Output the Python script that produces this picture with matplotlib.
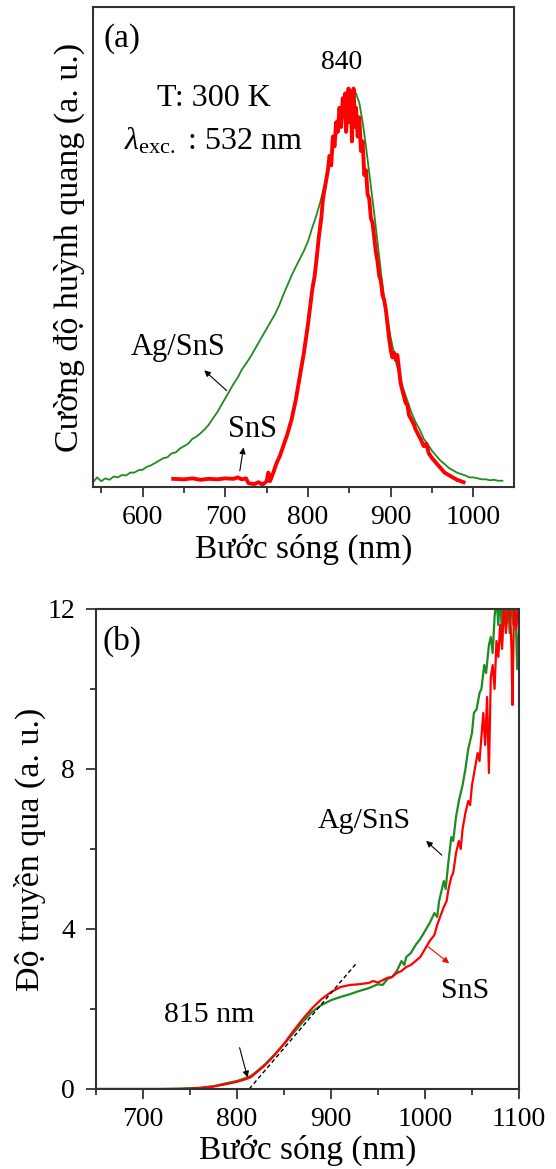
import matplotlib
matplotlib.use("Agg")
import matplotlib.pyplot as plt
from matplotlib.ticker import MultipleLocator

plt.rcParams['font.family'] = ['Liberation Serif', 'DejaVu Serif']
plt.rcParams['mathtext.fontset'] = 'custom'
plt.rcParams['mathtext.rm'] = 'Liberation Serif'
plt.rcParams['mathtext.it'] = 'Liberation Serif:italic'

GREEN = '#1f8c1f'
RED = '#ff0000'
SPINE = '#333333'

# (a) photoluminescence, normalised intensity
pl_agsns_wl = [540, 545, 550, 555, 560, 565, 570, 575, 580, 585, 590, 595, 600, 605, 610,
               615, 620, 625, 630, 635, 640, 645, 650, 655, 660, 665, 670, 675, 680, 685,
               690, 695, 700, 705, 710, 715, 720, 725, 730, 735, 740, 745, 750, 755, 760,
               765, 770, 775, 780, 785, 790, 795, 800, 805, 810, 815, 820, 825, 830, 835,
               840, 845, 850, 855, 858, 862, 866, 870, 875, 880, 885, 890, 895, 900, 905,
               910, 915, 920, 925, 930, 935, 940, 945, 950, 955, 960, 965, 970, 975, 980,
               985, 990, 995, 1000, 1005, 1010, 1015, 1020, 1025, 1030, 1035]
pl_agsns = [0.010, 0.020, 0.012, 0.018, 0.015, 0.022, 0.020, 0.025, 0.024, 0.030, 0.030,
            0.035, 0.036, 0.042, 0.045, 0.050, 0.055, 0.060, 0.062, 0.070, 0.072, 0.080,
            0.085, 0.090, 0.100, 0.105, 0.112, 0.120, 0.130, 0.143, 0.155, 0.170, 0.185,
            0.200, 0.215, 0.228, 0.245, 0.257, 0.270, 0.285, 0.300, 0.315, 0.330, 0.345,
            0.360, 0.378, 0.400, 0.420, 0.440, 0.458, 0.475, 0.492, 0.512, 0.540, 0.565,
            0.595, 0.630, 0.665, 0.700, 0.740, 0.775, 0.800, 0.825, 0.826, 0.820, 0.800,
            0.760, 0.710, 0.640, 0.570, 0.495, 0.420, 0.360, 0.310, 0.270, 0.235, 0.205,
            0.180, 0.155, 0.135, 0.120, 0.100, 0.088, 0.075, 0.065, 0.055, 0.048, 0.040,
            0.035, 0.030, 0.027, 0.024, 0.020, 0.020, 0.018, 0.016, 0.016, 0.014, 0.015,
            0.013, 0.013]

pl_sns_wl = [637, 650, 660, 670, 680, 690, 700, 710, 715, 720, 725, 728, 735, 740, 745,
             750, 752, 754, 758, 762, 766, 770, 775, 780, 785, 790, 795, 800, 805, 808,
             810, 813, 816, 818, 820, 822, 824, 826, 828, 830, 832, 834, 836, 838, 840,
             842, 844, 845, 846, 848, 849, 850, 852, 853, 854, 855, 857, 858, 860, 862,
             864, 866, 868, 870, 872, 874, 876, 878, 880, 882, 884, 886, 888, 890, 892,
             894, 896, 898, 900, 902, 904, 906, 908, 910, 912, 915, 918, 920, 922, 925,
             928, 930, 933, 936, 940, 943, 946, 950, 955, 960, 965, 970, 975, 980, 985, 988]
pl_sns = [0.017, 0.016, 0.018, 0.015, 0.017, 0.016, 0.018, 0.017, 0.020, 0.016, 0.018,
          0.008, 0.006, 0.010, 0.005, 0.012, 0.030, 0.012, 0.030, 0.050, 0.065, 0.085,
          0.110, 0.140, 0.180, 0.230, 0.280, 0.340, 0.410, 0.440, 0.470, 0.520, 0.560,
          0.600, 0.620, 0.640, 0.660, 0.690, 0.670, 0.730, 0.710, 0.760, 0.740, 0.790,
          0.750, 0.810, 0.770, 0.820, 0.740, 0.800, 0.830, 0.760, 0.820, 0.720, 0.800,
          0.830, 0.750, 0.790, 0.730, 0.770, 0.700, 0.720, 0.650, 0.660, 0.610, 0.600,
          0.560, 0.550, 0.520, 0.490, 0.470, 0.440, 0.430, 0.400, 0.390, 0.370, 0.340,
          0.310, 0.285, 0.270, 0.280, 0.265, 0.275, 0.245, 0.215, 0.195, 0.175, 0.172,
          0.150, 0.140, 0.130, 0.120, 0.110, 0.100, 0.085, 0.090, 0.070, 0.060, 0.050,
          0.040, 0.030, 0.025, 0.020, 0.015, 0.012, 0.010]

# (b) transmission
tr_agsns_wl = [650, 680, 700, 720, 740, 760, 775, 790, 800, 810, 815, 820, 830, 840, 850,
               860, 870, 880, 890, 900, 910, 920, 930, 940, 950, 955, 960, 965, 970, 975,
               978, 980, 985, 990, 995, 1000, 1005, 1010, 1013, 1015, 1020, 1022, 1025,
               1028, 1030, 1033, 1036, 1040, 1043, 1046, 1050, 1052, 1055, 1058, 1060,
               1063, 1065, 1068, 1070, 1072, 1074, 1076, 1078, 1080, 1082, 1084, 1086,
               1088, 1090, 1092, 1094, 1096, 1098, 1100]
tr_agsns = [0.0, 0.0, 0.0, 0.0, 0.01, 0.03, 0.07, 0.15, 0.20, 0.28, 0.33, 0.42, 0.62,
            0.86, 1.12, 1.40, 1.68, 1.93, 2.10, 2.22, 2.30, 2.37, 2.45, 2.52, 2.62, 2.60,
            2.75, 2.80, 2.95, 3.20, 3.10, 3.30, 3.40, 3.60, 3.75, 3.95, 4.15, 4.40, 4.30,
            4.70, 5.20, 5.00, 5.70, 6.30, 6.20, 6.80, 7.20, 7.60, 8.00, 8.50, 8.90, 9.40,
            9.50, 9.90, 10.0, 10.6, 10.4, 11.1, 11.3, 10.9, 11.8, 12.3, 11.6, 12.5, 11.2,
            12.4, 11.7, 12.6, 11.4, 12.3, 11.6, 12.4, 10.5, 11.5]

tr_sns_wl = [650, 700, 740, 760, 775, 790, 800, 810, 815, 820, 830, 840, 850, 860, 870,
             880, 890, 900, 910, 920, 930, 940, 945, 950, 955, 960, 965, 970, 975, 980,
             985, 990, 995, 1000, 1005, 1010, 1013, 1016, 1020, 1023, 1025, 1028, 1030,
             1033, 1036, 1038, 1040, 1043, 1046, 1048, 1050, 1053, 1056, 1058, 1060, 1062,
             1064, 1066, 1068, 1070, 1072, 1074, 1076, 1078, 1080, 1082, 1084, 1086, 1088,
             1090, 1092, 1093, 1095, 1097, 1100]
tr_sns = [0.0, 0.0, 0.0, 0.02, 0.06, 0.13, 0.18, 0.25, 0.30, 0.40, 0.60, 0.85, 1.13,
          1.45, 1.75, 2.02, 2.25, 2.42, 2.55, 2.60, 2.62, 2.65, 2.70, 2.66, 2.72, 2.78,
          2.80, 2.90, 2.95, 3.05, 3.10, 3.20, 3.30, 3.50, 3.70, 3.85, 4.10, 4.30, 4.55,
          4.70, 5.00, 5.30, 5.40, 5.90, 6.20, 6.00, 6.50, 6.90, 7.20, 7.10, 7.60, 8.00,
          8.40, 8.20, 8.80, 9.40, 8.60, 9.80, 7.90, 10.3, 10.6, 10.0, 11.2, 10.8, 11.6,
          11.0, 12.2, 11.4, 11.9, 12.3, 11.0, 9.6, 12.4, 11.5, 12.2]

# tangent used for the absorption edge
edge_x = [813, 928]
edge_y = [0.0, 3.17]

W, H = 556, 1169
fig = plt.figure(figsize=(W / 100, H / 100), dpi=100)

def style(ax):
    for s in ax.spines.values():
        s.set_color(SPINE)
        s.set_linewidth(1.5)
    ax.tick_params(which='both', direction='out', color=SPINE, width=1.3,
                   labelsize=20, pad=6)
    ax.tick_params(which='major', length=7)
    ax.tick_params(which='minor', length=4)

# ---- panel (a)
ax1 = fig.add_axes([93 / W, 1 - 487 / H, (514 - 93) / W, (487 - 7) / H])
ax1.plot(pl_agsns_wl, pl_agsns, color=GREEN, lw=1.3)
ax1.plot(pl_sns_wl, pl_sns, color=RED, lw=2.8)
ax1.set_xlim(540, 1049)
ax1.set_ylim(0, 1)
ax1.xaxis.set_major_locator(MultipleLocator(100))
ax1.xaxis.set_minor_locator(MultipleLocator(50))
ax1.set_yticks([])
style(ax1)
ax1.set_xlabel('Bước sóng (nm)', fontsize=24, labelpad=3)
ax1.set_ylabel('Cường độ huỳnh quang (a. u.)', fontsize=24.5, labelpad=6)

ax1.text(575, 0.935, '(a)', fontsize=24, ha='center', va='center')
ax1.text(841, 0.885, '840', fontsize=20, ha='center', va='center')
ax1.text(686, 0.81, 'T: 300 K', fontsize=23, ha='center', va='center')
ax1.text(686, 0.72, r'$\lambda_{\rm exc.}$ : 532 nm', fontsize=23, ha='center', va='center')
ax1.text(643, 0.29, 'Ag/SnS', fontsize=22, ha='center', va='center')
ax1.annotate('', xy=(672, 0.247), xytext=(704, 0.197),
             arrowprops=dict(arrowstyle='-|>', color='black', lw=0.8, mutation_scale=9))
ax1.text(733, 0.12, 'SnS', fontsize=22, ha='center', va='center')
ax1.annotate('', xy=(722.5, 0.088), xytext=(717, 0.028),
             arrowprops=dict(arrowstyle='-|>', color='black', lw=0.8, mutation_scale=9))

# ---- panel (b)
ax2 = fig.add_axes([96 / W, 1 - 1089 / H, (519 - 96) / W, (1089 - 609) / H])
ax2.plot(tr_agsns_wl, tr_agsns, color=GREEN, lw=1.6)
ax2.plot(tr_sns_wl, tr_sns, color=RED, lw=1.6)
ax2.plot(edge_x, edge_y, color='black', lw=1.0, ls=(0, (3, 2)))
ax2.set_xlim(650, 1100)
ax2.set_ylim(0, 12)
ax2.xaxis.set_major_locator(MultipleLocator(100))
ax2.xaxis.set_minor_locator(MultipleLocator(50))
ax2.yaxis.set_major_locator(MultipleLocator(4))
ax2.yaxis.set_minor_locator(MultipleLocator(2))
style(ax2)
ax2.tick_params(axis='y', pad=8)
ax2.set_xlabel('Bước sóng (nm)', fontsize=24, labelpad=2)
ax2.set_ylabel('Độ truyền qua (a. u.)', fontsize=24.5, labelpad=1)

ax2.text(678, 11.2, '(b)', fontsize=24, ha='center', va='center')
ax2.text(770, 1.85, '815 nm', fontsize=21.5, ha='center', va='center')
ax2.annotate('', xy=(812, 0.22), xytext=(802, 1.1),
             arrowprops=dict(arrowstyle='-|>', color='black', lw=0.8, mutation_scale=9))
ax2.text(935, 6.7, 'Ag/SnS', fontsize=21.5, ha='center', va='center')
ax2.annotate('', xy=(999, 6.25), xytext=(1020, 5.8),
             arrowprops=dict(arrowstyle='-|>', color='black', lw=0.8, mutation_scale=9))
ax2.text(1043, 2.45, 'SnS', fontsize=21.5, ha='center', va='center')
ax2.annotate('', xy=(1028, 3.1), xytext=(1001, 3.6),
             arrowprops=dict(arrowstyle='-|>', color=RED, lw=0.8, mutation_scale=9))

fig.savefig('out.png', dpi=100)
